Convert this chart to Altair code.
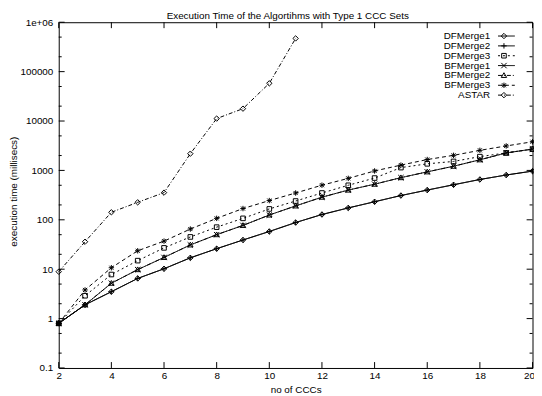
import altair as alt
import pandas as pd

# ---------------- data ----------------
x_ccc = list(range(2, 21))
x_astar = list(range(2, 12))

dfmerge1 = [0.8, 1.9, 3.5, 6.5, 10.2, 17, 26, 39, 58, 88, 128, 174, 232, 310, 400, 512, 655, 807, 968]
dfmerge2 = [0.8, 1.9, 3.5, 6.5, 10.2, 17, 26, 39, 58, 88, 128, 174, 232, 310, 400, 512, 655, 807, 968]
dfmerge3 = [0.8, 2.9, 7.8, 14.9, 27, 45, 71, 107, 166, 240, 349, 500, 700, 1140, 1360, 1520, 1900, 2260, 2700]
bfmerge1 = [0.8, 1.9, 5.2, 9.8, 17.3, 31, 50, 77, 125, 191, 287, 400, 526, 714, 935, 1215, 1640, 2260, 2700]
bfmerge2 = [0.8, 1.9, 5.2, 9.8, 17.3, 31, 50, 77, 125, 191, 287, 400, 526, 714, 935, 1215, 1640, 2260, 2700]
bfmerge3 = [0.8, 3.8, 10.7, 23.6, 37, 65, 107, 169, 245, 349, 502, 690, 975, 1280, 1660, 2020, 2550, 3130, 3800]
astar = [8.9, 36, 142, 226, 355, 2180, 11200, 17800, 58000, 470000]

names = ["DFMerge1", "DFMerge2", "DFMerge3", "BFMerge1", "BFMerge2", "BFMerge3", "ASTAR"]
series_x = [x_ccc, x_ccc, x_ccc, x_ccc, x_ccc, x_ccc, x_astar]
series_y = [dfmerge1, dfmerge2, dfmerge3, bfmerge1, bfmerge2, bfmerge3, astar]

x_ticks = [2, 4, 6, 8, 10, 12, 14, 16, 18, 20]
y_ticks = [0.1, 1, 10, 100, 1000, 10000, 100000, 1000000]
y_minor = [0.2, 0.5, 2, 5, 20, 50, 200, 500, 2000, 5000, 20000, 50000, 200000, 500000]

title_text = "Execution Time of the Algortihms with Type 1 CCC Sets"

# ---------------- styles ----------------
FONT = "Liberation Sans"
FS = 10
W, H = 481, 351

shapes = [
    "M0,-1L1,0L0,1L-1,0Z",                                   # diamond
    "M-1,0L1,0M0,-1L0,1",                                    # plus
    "M-0.85,-0.85L0.85,-0.85L0.85,0.85L-0.85,0.85Z",         # square
    "M-1,-1L1,1M-1,1L1,-1",                                  # x
    "M0,-1L1,0.75L-1,0.75Z",                                 # triangle
    "M-1,0L1,0M0,-1L0,1M-0.75,-0.75L0.75,0.75M-0.75,0.75L0.75,-0.75",  # star
    "M0,-1L1,0L0,1L-1,0Z",                                   # diamond
]
dashes = [[1, 0], [1, 0], [2, 3], [1, 0], [4, 2, 1, 2], [4, 3], [4, 2, 1, 2]]

rows = []
for n, xs_, ys_ in zip(names, series_x, series_y):
    for a, b in zip(xs_, ys_):
        rows.append({"series": n, "x": a, "y": b})
df = pd.DataFrame(rows)

xscale = alt.Scale(domain=[2, 20], nice=False, zero=False)
yscale = alt.Scale(type="log", domain=[0.1, 1000000], nice=False)

xaxis = alt.Axis(values=x_ticks, title="no of CCCs", ticks=False, tickSize=0, domain=False,
                 grid=False, labelPadding=3, format="d", titleY=25,
                 titleBaseline="alphabetic", labelFlush=False,
                 labelAlign={"condition": {"test": "datum.value >= 20", "value": "right"},
                             "value": "center"},
                 labelOffset={"condition": {"test": "datum.value >= 20", "value": 2},
                              "value": 0})
yaxis = alt.Axis(values=y_ticks, title="execution time (millisecs)", ticks=False, tickSize=0,
                 domain=False, grid=False, labelPadding=6, labelFlush=False,
                 labelExpr="datum.value >= 999999 ? '1e+06' : (datum.value < 1 ? '0.1' : format(datum.value, 'd'))",
                 titleX=-43, titleY=H / 2 - 4, titleAngle=270, titleBaseline="alphabetic")


def X(field):
    return alt.X(f"{field}:Q", scale=xscale, axis=xaxis)


def Y(field):
    return alt.Y(f"{field}:Q", scale=yscale, axis=yaxis)


base = alt.Chart(df)
lines = base.mark_line(color="black", strokeWidth=1).encode(
    x=X("x"), y=Y("y"),
    strokeDash=alt.StrokeDash("series:N", scale=alt.Scale(domain=names, range=dashes), legend=None),
    detail="series:N",
)
points = base.mark_point(filled=False, color="black", strokeWidth=1, size=30, opacity=1).encode(
    x=X("x"), y=Y("y"),
    shape=alt.Shape("series:N", scale=alt.Scale(domain=names, range=shapes), legend=None),
)

layers = [lines, points]

# tick marks pointing inward on all four borders
xt_df = pd.DataFrame({"x": x_ticks})
layers.append(alt.Chart(xt_df).mark_rule(color="black", strokeWidth=1).encode(
    x=X("x"), y=alt.value(H), y2=alt.value(H - 6)))
layers.append(alt.Chart(xt_df).mark_rule(color="black", strokeWidth=1).encode(
    x=X("x"), y=alt.value(0), y2=alt.value(6)))
yt_df = pd.DataFrame({"y": y_ticks})
ym_df = pd.DataFrame({"y": y_minor})
for d, ln in [(yt_df, 6), (ym_df, 3)]:
    layers.append(alt.Chart(d).mark_rule(color="black", strokeWidth=1).encode(
        y=Y("y"), x=alt.value(0), x2=alt.value(ln)))
    layers.append(alt.Chart(d).mark_rule(color="black", strokeWidth=1).encode(
        y=Y("y"), x=alt.value(W), x2=alt.value(W - ln)))

# legend (gnuplot style: label, then sample)
for i, (n, shp, dsh) in enumerate(zip(names, shapes, dashes)):
    ly = 14 + i * 10
    ldf = pd.DataFrame({"label": [n]})
    layers.append(alt.Chart(ldf).mark_text(align="right", baseline="middle", font=FONT,
                                           fontSize=FS, color="black").encode(
        text="label:N", x=alt.value(438), y=alt.value(ly)))
    layers.append(alt.Chart(ldf).mark_rule(color="black", strokeWidth=1, strokeDash=dsh).encode(
        x=alt.value(446), x2=alt.value(463), y=alt.value(ly)))
    layers.append(alt.Chart(ldf).mark_point(shape=shp, filled=False, color="black", size=30,
                                            strokeWidth=1, opacity=1).encode(
        x=alt.value(452), y=alt.value(ly)))

# chart title (placed above the plot frame)
tdf = pd.DataFrame({"t": [title_text]})
layers.append(alt.Chart(tdf).mark_text(align="center", baseline="alphabetic", font=FONT,
                                       fontSize=FS, color="black").encode(
    text="t:N", x=alt.value(W / 2 - 8), y=alt.value(-3.5)))

chart = alt.layer(*layers).properties(
    width=W, height=H,
    autosize="none",
    padding={"left": 51.5, "top": 11.5, "right": 1.5, "bottom": 26},
).configure_view(
    stroke="black", strokeWidth=1
).configure_axis(
    labelFont=FONT, labelFontSize=FS, labelColor="black",
    titleFont=FONT, titleFontSize=FS, titleColor="black", titleFontWeight="normal",
)

chart.save("out.html", embed_options={"renderer": "svg", "actions": False})
